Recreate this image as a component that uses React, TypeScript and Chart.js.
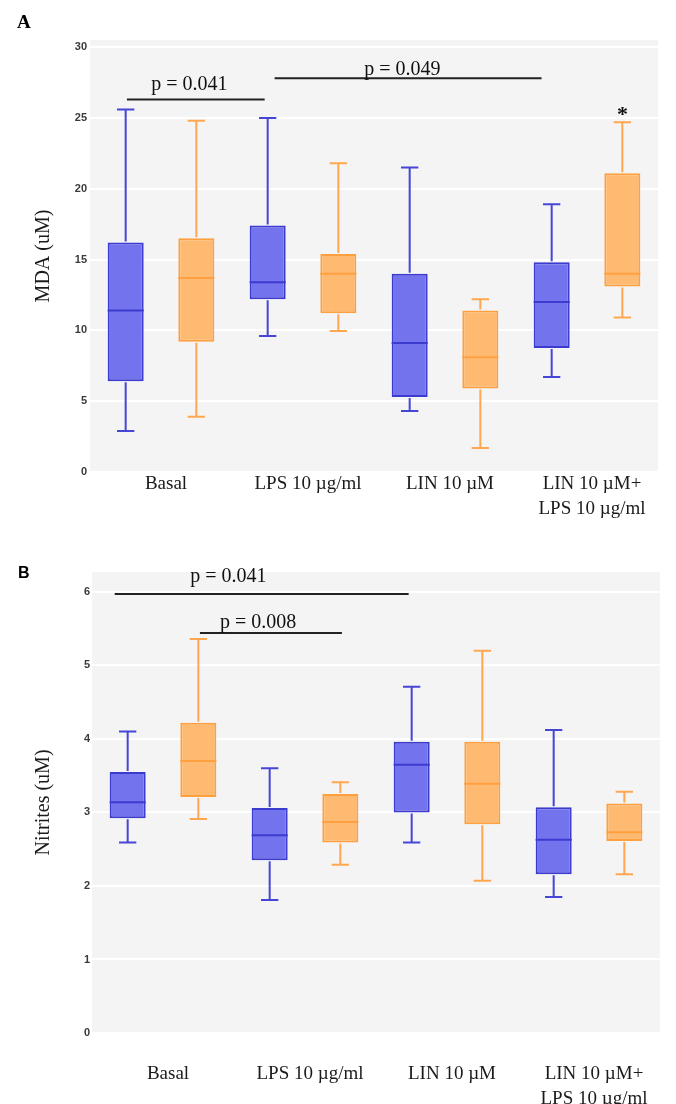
import React, { useEffect, useRef } from "react";
import { Chart, registerables } from "chart.js";

Chart.register(...registerables);

// ---------- DATA ----------
const categories: (string | string[])[] = [
  "Basal",
  "LPS 10 µg/ml",
  "LIN 10 µM",
  ["LIN 10 µM+", "LPS 10 µg/ml"],
];

// Box statistics per category: [min, q1, median, q3, max]
const mdaBlue = [
  [2.9, 6.4, 11.4, 16.2, 25.6],
  [9.6, 12.2, 13.4, 17.4, 25.0],
  [4.3, 5.3, 9.1, 14.0, 21.5],
  [6.7, 8.75, 12.0, 14.8, 18.9],
];
const mdaOrange = [
  [3.9, 9.2, 13.7, 16.5, 24.8],
  [9.95, 11.2, 14.0, 15.4, 21.8],
  [1.7, 5.9, 8.1, 11.4, 12.2],
  [10.9, 13.1, 14.0, 21.1, 24.7],
];
const nitBlue = [
  [2.59, 2.92, 3.14, 3.55, 4.1],
  [1.81, 2.35, 2.69, 3.06, 3.6],
  [2.59, 3.0, 3.65, 3.96, 4.71],
  [1.85, 2.16, 2.63, 3.07, 4.12],
];
const nitOrange = [
  [2.91, 3.21, 3.7, 4.22, 5.36],
  [2.29, 2.59, 2.87, 3.25, 3.41],
  [2.07, 2.84, 3.39, 3.96, 5.2],
  [2.16, 2.61, 2.73, 3.12, 3.28],
];

const mdaTicks = [0, 5, 10, 15, 20, 25, 30];
const nitTicks = [0, 1, 2, 3, 4, 5, 6];

// significance brackets (x in category units, y in axis units)
const mdaBrackets = [
  { from: -0.24, to: 0.73, y: 26.3, textAt: 0.2, textY: 27.0, label: "p = 0.041" },
  { from: 0.8, to: 2.68, y: 27.8, textAt: 1.7, textY: 28.0, label: "p = 0.049" },
];
const mdaStars = [{ at: 3.25, y: 24.8, label: "*" }];
const nitBrackets = [
  { from: -0.34, to: 1.73, y: 5.97, textAt: 0.46, textY: 6.14, label: "p = 0.041" },
  { from: 0.26, to: 1.26, y: 5.44, textAt: 0.67, textY: 5.51, label: "p = 0.008" },
];
const nitStars: { at: number; y: number; label: string }[] = [];

// ---------- STYLE ----------
const SERIF = "'Liberation Serif', 'Times New Roman', serif";
const SANS = "'Liberation Sans', Arial, sans-serif";
const BLUE_FILL = "#7373EE";
const BLUE_LINE = "#3B3BCF";
const OR_FILL = "#FFBA72";
const OR_LINE = "#FFA040";

const bgPlugin = {
  id: "plotBg",
  beforeDraw(chart: any) {
    const { ctx, chartArea: a } = chart;
    ctx.save();
    ctx.fillStyle = "#F4F4F4";
    ctx.fillRect(a.left, a.top, a.right - a.left, a.bottom - a.top);
    ctx.restore();
  },
};

const boxPlugin = {
  id: "boxWhiskers",
  afterDatasetsDraw(chart: any) {
    const ctx = chart.ctx;
    const ys = chart.scales.y;
    chart.data.datasets.forEach((ds: any, di: number) => {
      const meta = chart.getDatasetMeta(di);
      meta.data.forEach((bar: any, i: number) => {
        const [mn, q1, med, q3, mx] = ds.stats[i];
        const x = bar.x;
        const w = bar.width;
        const cap = w * 0.24;
        ctx.save();
        ctx.strokeStyle = ds.whiskerColor;
        ctx.lineWidth = 2;
        ctx.beginPath();
        ctx.moveTo(x, ys.getPixelForValue(q3) - 1);
        ctx.lineTo(x, ys.getPixelForValue(mx));
        ctx.moveTo(x - cap, ys.getPixelForValue(mx));
        ctx.lineTo(x + cap, ys.getPixelForValue(mx));
        ctx.moveTo(x, ys.getPixelForValue(q1) + 1);
        ctx.lineTo(x, ys.getPixelForValue(mn));
        ctx.moveTo(x - cap, ys.getPixelForValue(mn));
        ctx.lineTo(x + cap, ys.getPixelForValue(mn));
        ctx.stroke();
        ctx.strokeStyle = ds.borderColor;
        ctx.beginPath();
        ctx.moveTo(x - w / 2, ys.getPixelForValue(med));
        ctx.lineTo(x + w / 2, ys.getPixelForValue(med));
        ctx.stroke();
        ctx.restore();
      });
    });
  },
};

const annotPlugin = {
  id: "annot",
  afterDraw(chart: any, _args: any, opts: any) {
    const ctx = chart.ctx;
    const xs = chart.scales.x;
    const ys = chart.scales.y;
    ctx.save();
    (opts.brackets || []).forEach((b: any) => {
      const yy = ys.getPixelForValue(b.y);
      ctx.strokeStyle = "#222";
      ctx.lineWidth = 2;
      ctx.beginPath();
      ctx.moveTo(xs.getPixelForValue(b.from), yy);
      ctx.lineTo(xs.getPixelForValue(b.to), yy);
      ctx.stroke();
      ctx.fillStyle = "#111";
      ctx.font = `20px ${SERIF}`;
      ctx.textAlign = "center";
      ctx.textBaseline = "alphabetic";
      ctx.fillText(b.label, xs.getPixelForValue(b.textAt), ys.getPixelForValue(b.textY));
    });
    (opts.stars || []).forEach((s: any) => {
      ctx.fillStyle = "#111";
      ctx.font = `bold 22px ${SERIF}`;
      ctx.textAlign = "center";
      ctx.textBaseline = "alphabetic";
      ctx.fillText(s.label, xs.getPixelForValue(s.at), ys.getPixelForValue(s.y));
    });
    if (opts.letter) {
      ctx.fillStyle = "#000";
      ctx.font = opts.letterFont;
      ctx.textAlign = "left";
      ctx.textBaseline = "alphabetic";
      ctx.fillText(opts.letter, opts.letterX, opts.letterY);
    }
    ctx.restore();
  },
};

type PanelProps = {
  height: number;
  top: number;
  blue: number[][];
  orange: number[][];
  ticks: number[];
  yMax: number;
  yTitle: string;
  padTop: number;
  padRight: number;
  yWidth: number;
  tickPad: number;
  xHeight: number;
  xPad: number;
  brackets: any[];
  stars: any[];
  letter: string;
  letterFont: string;
  letterX: number;
  letterY: number;
};

function Panel(p: PanelProps) {
  const ref = useRef<HTMLCanvasElement>(null);
  useEffect(() => {
    if (!ref.current) return;
    const chart = new Chart(ref.current, {
      type: "bar",
      data: {
        labels: categories as any,
        datasets: [
          {
            label: "Blue",
            data: p.blue.map((s) => [s[1], s[3]]) as any,
            backgroundColor: BLUE_FILL,
            borderColor: BLUE_LINE,
            borderWidth: 2,
            borderSkipped: false,
            barPercentage: 0.51,
            categoryPercentage: 0.995,
            stats: p.blue,
            whiskerColor: "#4646D6",
          } as any,
          {
            label: "Orange",
            data: p.orange.map((s) => [s[1], s[3]]) as any,
            backgroundColor: OR_FILL,
            borderColor: OR_LINE,
            borderWidth: 2,
            borderSkipped: false,
            barPercentage: 0.51,
            categoryPercentage: 0.995,
            stats: p.orange,
            whiskerColor: "#FFA650",
          } as any,
        ],
      },
      options: {
        responsive: false,
        animation: false,
        layout: { padding: { top: p.padTop, right: p.padRight, left: 0, bottom: 0 } },
        plugins: {
          legend: { display: false },
          tooltip: { enabled: false },
          annot: {
            brackets: p.brackets,
            stars: p.stars,
            letter: p.letter,
            letterFont: p.letterFont,
            letterX: p.letterX,
            letterY: p.letterY,
          },
        } as any,
        scales: {
          x: {
            grid: { display: false },
            border: { display: false },
            ticks: {
              font: { family: SERIF, size: 19, lineHeight: 1.3 },
              color: "#1a1a1a",
              padding: p.xPad,
              maxRotation: 0,
              autoSkip: false,
              labelOffset: 5,
            },
            afterFit: (s: any) => {
              s.height = p.xHeight;
            },
          },
          y: {
            min: 0,
            max: p.yMax,
            grid: { color: "#FFFFFF", lineWidth: 2, drawTicks: false },
            border: { display: false },
            ticks: {
              font: { family: SANS, size: 11, weight: "bold" },
              color: "#3a3a3a",
              padding: p.tickPad,
            },
            afterBuildTicks: (s: any) => {
              s.ticks = p.ticks.map((v) => ({ value: v }));
            },
            afterFit: (s: any) => {
              s.width = p.yWidth;
            },
            title: {
              display: true,
              text: p.yTitle,
              font: { family: SERIF, size: 20 },
              color: "#1a1a1a",
              padding: { top: 32, bottom: 0 },
            },
          },
        },
      } as any,
      plugins: [bgPlugin, boxPlugin, annotPlugin],
    });
    return () => chart.destroy();
  }, []);
  return (
    <canvas
      ref={ref}
      width={676}
      height={p.height}
      style={{ position: "absolute", left: 0, top: p.top, width: 676, height: p.height, display: "block" }}
    />
  );
}

export default function App() {
  return (
    <div style={{ position: "absolute", left: 0, top: 0, width: 676, height: 1104, background: "#fff" }}>
      <Panel
        height={530}
        top={0}
        blue={mdaBlue}
        orange={mdaOrange}
        ticks={mdaTicks}
        yMax={30.5}
        yTitle="MDA (uM)"
        padTop={40}
        padRight={18}
        yWidth={90}
        tickPad={3}
        xHeight={58}
        xPad={-8}
        brackets={mdaBrackets}
        stars={mdaStars}
        letter="A"
        letterFont={`bold 19px ${SERIF}`}
        letterX={17}
        letterY={28}
      />
      <Panel
        height={564}
        top={540}
        blue={nitBlue}
        orange={nitOrange}
        ticks={nitTicks}
        yMax={6.27}
        yTitle="Nitrites (uM)"
        padTop={32}
        padRight={16}
        yWidth={92}
        tickPad={2}
        xHeight={71}
        xPad={21}
        brackets={nitBrackets}
        stars={nitStars}
        letter="B"
        letterFont={`bold 16px ${SANS}`}
        letterX={18}
        letterY={38}
      />
    </div>
  );
}
